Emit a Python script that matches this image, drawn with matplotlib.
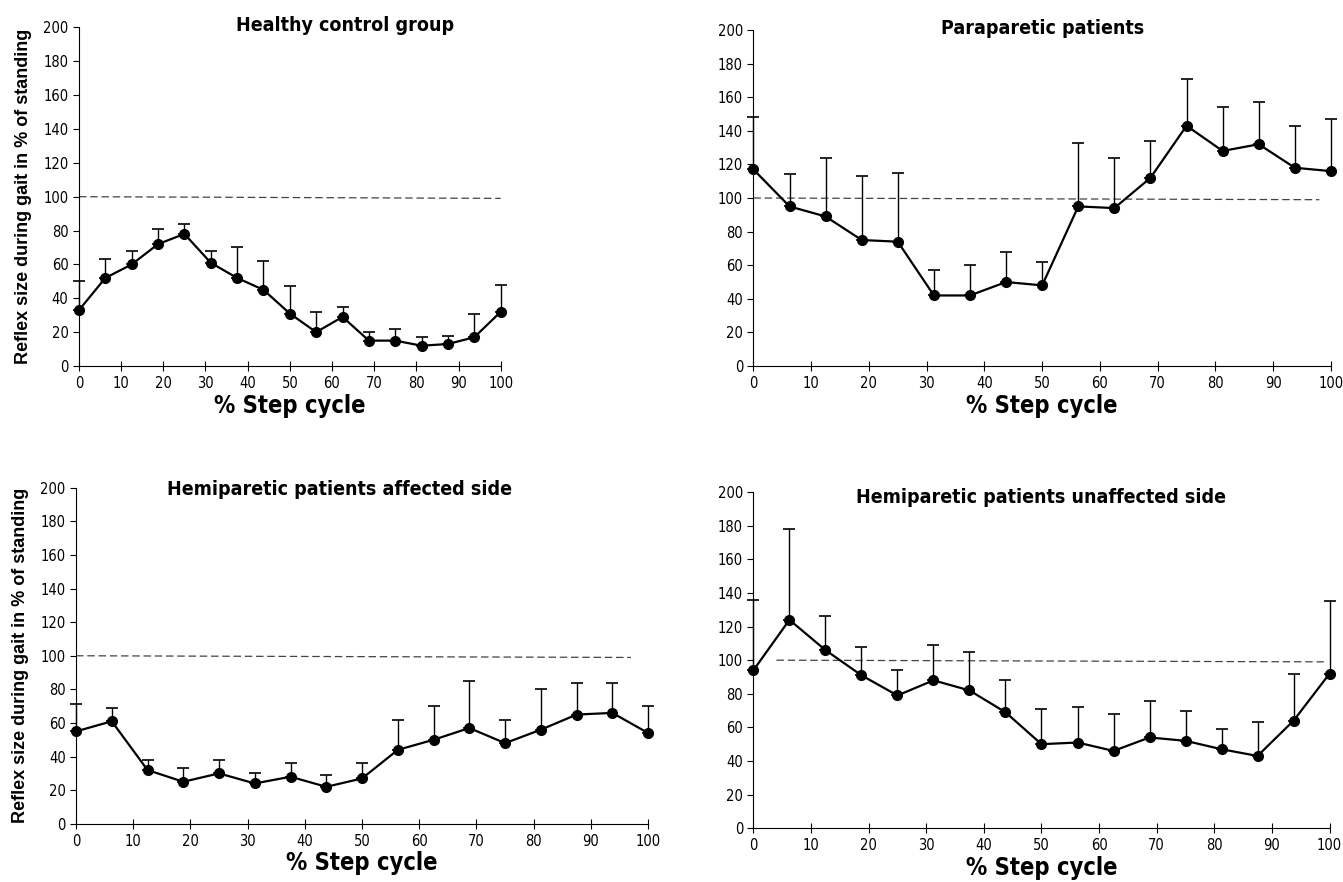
import numpy as np
import matplotlib.pyplot as plt

step = np.arange(17) * 6.25

healthy_mean = [33, 52, 60, 72, 78, 61, 52, 45, 31, 20, 29, 15, 15, 12, 13, 17, 32]
healthy_upper = [50, 63, 68, 81, 84, 68, 70, 62, 47, 32, 35, 20, 22, 17, 18, 31, 48]

para_mean = [117, 95, 89, 75, 74, 42, 42, 50, 48, 95, 94, 112, 143, 128, 132, 118, 116]
para_upper = [148, 114, 124, 113, 115, 57, 60, 68, 62, 133, 124, 134, 171, 154, 157, 143, 147]

hemi_aff_mean = [55, 61, 32, 25, 30, 24, 28, 22, 27, 44, 50, 57, 48, 56, 65, 66, 54]
hemi_aff_upper = [71, 69, 38, 33, 38, 30, 36, 29, 36, 62, 70, 85, 62, 80, 84, 84, 70]

hemi_unaff_mean = [94, 124, 106, 91, 79, 88, 82, 69, 50, 51, 46, 54, 52, 47, 43, 64, 92]
hemi_unaff_upper = [136, 178, 126, 108, 94, 109, 105, 88, 71, 72, 68, 76, 70, 59, 63, 92, 135]

plt.rcParams['font.family'] = ['DejaVu Sans']
plt.rcParams['font.stretch'] = 'condensed'

fig = plt.figure(figsize=(13.43, 8.82), dpi=100)

# title, mean, upper SD, axes rect, dashed-line x span, y label?, title x, title y
panels = [
    ("Healthy control group", healthy_mean, healthy_upper,
     [0.0588, 0.585, 0.314, 0.384], (0, 100), True, 63, 201),
    ("Paraparetic patients", para_mean, para_upper,
     [0.561, 0.585, 0.430, 0.381], (0, 98), False, 50, 201),
    ("Hemiparetic patients affected side", hemi_aff_mean, hemi_aff_upper,
     [0.0566, 0.066, 0.426, 0.381], (0, 97), True, 46, 199),
    ("Hemiparetic patients unaffected side", hemi_unaff_mean, hemi_unaff_upper,
     [0.561, 0.061, 0.429, 0.381], (4, 99), False, 50, 197),
]

for title, mean, upper, rect, ref_span, ylab, tx, ty in panels:
    ax = fig.add_axes(rect)
    mean = np.array(mean, dtype=float)
    upper = np.array(upper, dtype=float)
    # reference level: reflex size while standing
    ax.plot(ref_span, [100, 99], ls=(0, (6, 3)), color='#444444', lw=0.9)
    ax.errorbar(step, mean, yerr=[np.zeros_like(mean), upper - mean],
                fmt='-o', color='black', lw=1.6, ms=7, ecolor='black',
                elinewidth=1.0, capsize=4, capthick=1.2)
    ax.set_xlim(0, 100)
    ax.set_ylim(0, 200)
    ax.set_xticks(range(0, 101, 10))
    ax.set_yticks(range(0, 201, 20))
    for s in ['top', 'right']:
        ax.spines[s].set_visible(False)
    ax.spines['left'].set_linewidth(0.8)
    ax.spines['bottom'].set_linewidth(0.8)
    ax.tick_params(axis='x', direction='inout', length=7, width=0.8, labelsize=10.5)
    ax.tick_params(axis='y', direction='out', length=4, width=0.8, labelsize=10.5)
    ax.text(tx, ty, title, ha='center', va='center', fontsize=14, fontweight='bold')
    ax.set_xlabel("% Step cycle", fontsize=17, fontweight='bold', labelpad=2)
    if ylab:
        ax.set_ylabel("Reflex size during gait in % of standing", fontsize=13,
                      fontweight='bold', family=['Liberation Sans', 'DejaVu Sans'],
                      fontstretch='normal', labelpad=8)
    for art in ax.lines + ax.collections:
        art.set_clip_on(False)

fig.savefig('out.png', dpi=100)
